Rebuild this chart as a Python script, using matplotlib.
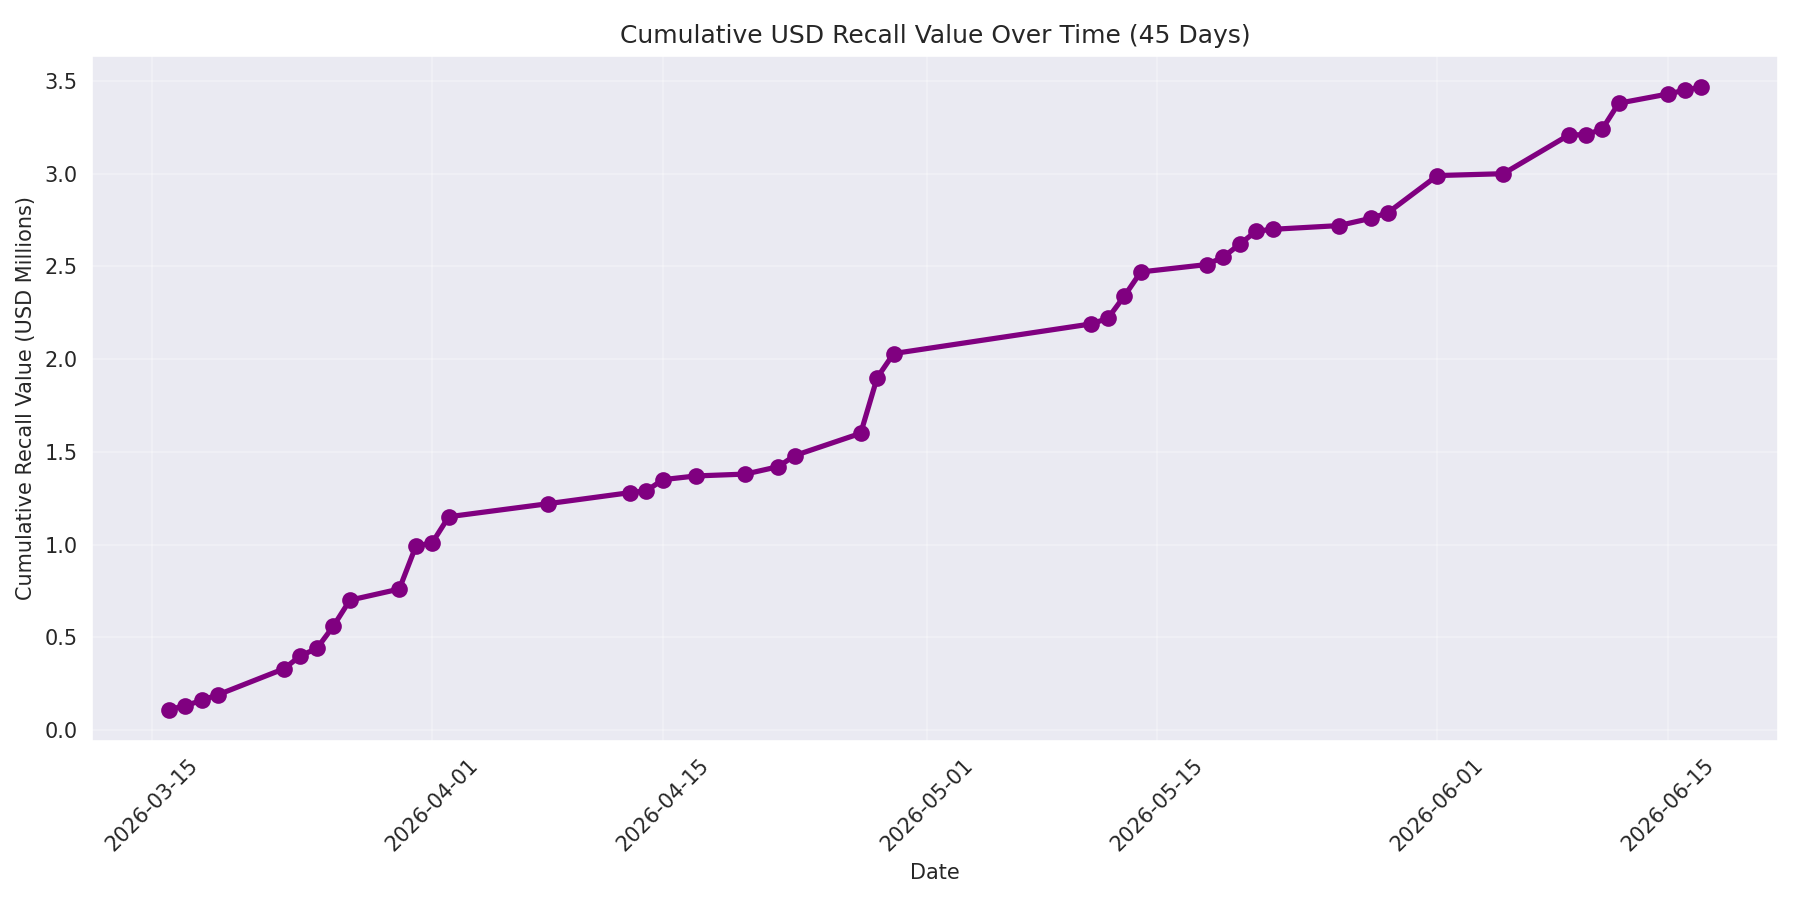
import matplotlib
matplotlib.use("Agg")
import matplotlib.pyplot as plt
import seaborn as sns
import pandas as pd

dates = ["2026-03-16", "2026-03-17", "2026-03-18", "2026-03-19", "2026-03-23",
         "2026-03-24", "2026-03-25", "2026-03-26", "2026-03-27", "2026-03-30",
         "2026-03-31", "2026-04-01", "2026-04-02", "2026-04-08", "2026-04-13",
         "2026-04-14", "2026-04-15", "2026-04-17", "2026-04-20", "2026-04-22",
         "2026-04-23", "2026-04-27", "2026-04-28", "2026-04-29", "2026-05-11",
         "2026-05-12", "2026-05-13", "2026-05-14", "2026-05-18", "2026-05-19",
         "2026-05-20", "2026-05-21", "2026-05-22", "2026-05-26", "2026-05-28",
         "2026-05-29", "2026-06-01", "2026-06-05", "2026-06-09", "2026-06-10",
         "2026-06-11", "2026-06-12", "2026-06-15", "2026-06-16", "2026-06-17"]
cumulative = [0.11, 0.13, 0.16, 0.19, 0.33,
              0.40, 0.44, 0.56, 0.70, 0.76,
              0.99, 1.01, 1.15, 1.22, 1.28,
              1.29, 1.35, 1.37, 1.38, 1.42,
              1.48, 1.60, 1.90, 2.03, 2.19,
              2.22, 2.34, 2.47, 2.51, 2.55,
              2.62, 2.69, 2.70, 2.72, 2.76,
              2.79, 2.99, 3.00, 3.21, 3.21,
              3.24, 3.38, 3.43, 3.45, 3.467]

sns.set_style("darkgrid")
plt.rcParams['font.family'] = ['DejaVu Sans']

x = pd.to_datetime(dates)
fig, ax = plt.subplots(figsize=(12, 6), dpi=150)
ax.plot(x, cumulative, color="purple", linewidth=2.5, marker="o", markersize=7)
ax.set_title("Cumulative USD Recall Value Over Time (45 Days)", fontsize=12)
ax.set_xlabel("Date", fontsize=10)
ax.set_ylabel("Cumulative Recall Value (USD Millions)", fontsize=10)
ax.tick_params(axis="both", labelsize=10)
plt.setp(ax.get_xticklabels(), rotation=45)
ax.grid(True, alpha=0.3)
fig.subplots_adjust(left=0.0511, right=0.9876, bottom=0.1770, top=0.9378)
fig.savefig("out.png")
